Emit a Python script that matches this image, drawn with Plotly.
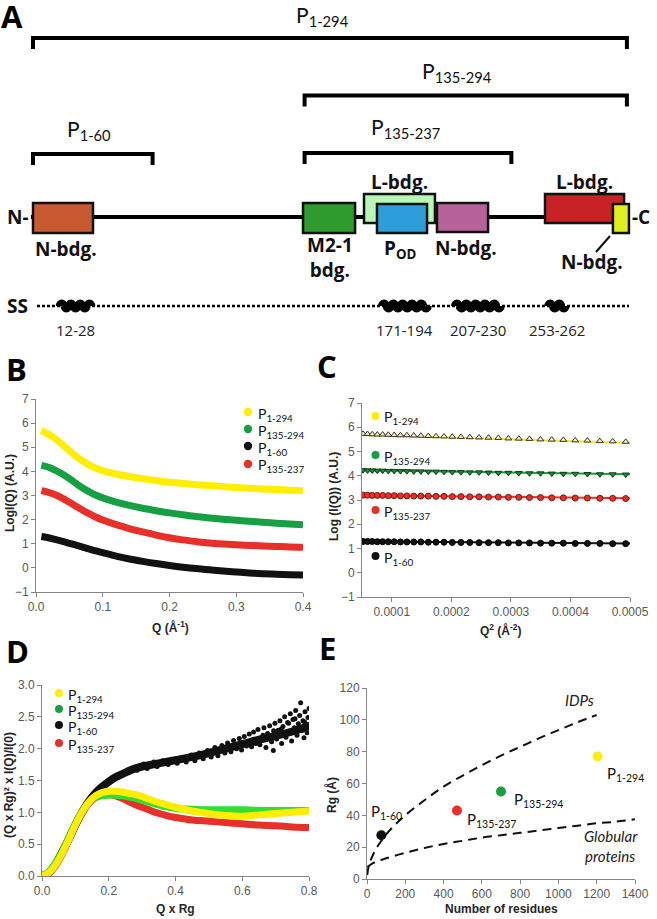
import plotly.graph_objects as go

W, H = 657, 919


def px_x(px):
    return px / W


def px_y(py):
    return 1 - py / H


# ======================= DATA =======================
# ---- Panel A: construct map (residue numbers) ----
construct_labels = ["P<sub>1-294</sub>", "P<sub>135-294</sub>", "P<sub>1-60</sub>", "P<sub>135-237</sub>"]
construct_start = [1, 135, 1, 135]
construct_end = [294, 294, 60, 237]

domain_labels = ["N-bdg.", "M2-1<br>bdg.", "L-bdg.", "P<sub>OD</sub>", "N-bdg.", "L-bdg.", "N-bdg."]
domain_start = [1.0, 134.2, 164.3, 170.7, 200.3, 253.6, 287.1]
domain_end = [30.6, 159.9, 199.3, 195.4, 225.5, 292.6, 295.0]
domain_colors = ["#C75A31", "#2E9B2E", "#B9F7B9", "#2E9EDB", "#B8629A", "#C82126", "#DCF01F"]

helix_start = [12, 171, 207, 253]
helix_end = [28, 194, 230, 262]
helix_labels = ["12-28", "171-194", "207-230", "253-262"]

series_names = ["P<sub>1-294</sub>", "P<sub>135-294</sub>", "P<sub>1-60</sub>", "P<sub>135-237</sub>"]

# ---- Panel B: log I(Q) vs Q ----
q_b = [0.008, 0.02, 0.03, 0.04, 0.05, 0.06, 0.07, 0.08, 0.09, 0.10, 0.12, 0.14, 0.16, 0.18,
       0.20, 0.22, 0.24, 0.26, 0.28, 0.30, 0.32, 0.34, 0.36, 0.38, 0.40]
b_p1_294 = [5.70, 5.52, 5.33, 5.10, 4.86, 4.63, 4.43, 4.26, 4.13, 4.03, 3.89, 3.79, 3.70, 3.62,
            3.55, 3.50, 3.45, 3.41, 3.37, 3.33, 3.30, 3.27, 3.25, 3.22, 3.20]
b_p135_294 = [4.25, 4.16, 4.03, 3.88, 3.70, 3.50, 3.31, 3.15, 3.01, 2.90, 2.73, 2.59, 2.47, 2.37,
              2.28, 2.20, 2.13, 2.07, 2.02, 1.97, 1.93, 1.89, 1.85, 1.82, 1.79]
b_p1_60 = [1.30, 1.24, 1.17, 1.10, 1.02, 0.94, 0.86, 0.78, 0.70, 0.63, 0.49, 0.37, 0.27, 0.18,
           0.10, 0.03, -0.03, -0.08, -0.13, -0.17, -0.21, -0.24, -0.26, -0.28, -0.30]
b_p135_237 = [3.20, 3.12, 3.02, 2.88, 2.72, 2.55, 2.39, 2.24, 2.10, 1.98, 1.79, 1.63, 1.49, 1.36,
              1.25, 1.16, 1.09, 1.03, 0.99, 0.96, 0.93, 0.91, 0.89, 0.87, 0.86]

# ---- Panel C: Guinier plot ----
q2_c = [0.0000518, 0.0000593, 0.0000672, 0.0000757, 0.0000846, 0.0000941, 0.0001040, 0.0001145,
        0.0001254, 0.0001369, 0.0001488, 0.0001613, 0.0001742, 0.0001877, 0.0002016, 0.0002161,
        0.0002310, 0.0002465, 0.0002624, 0.0002789, 0.0002958, 0.0003133, 0.0003312, 0.0003497,
        0.0003686, 0.0003881, 0.0004080, 0.0004285, 0.0004494, 0.0004709, 0.0004928]
c_p1_294 = [5.73, 5.72, 5.71, 5.70, 5.70, 5.69, 5.68, 5.67, 5.67, 5.66, 5.65, 5.64, 5.63, 5.62, 5.61, 5.60,
            5.59, 5.58, 5.57, 5.56, 5.54, 5.53, 5.52, 5.50, 5.49, 5.48, 5.46, 5.45, 5.43, 5.42, 5.40]
c_p135_294 = [4.23, 4.22, 4.22, 4.21, 4.21, 4.20, 4.20, 4.19, 4.19, 4.18, 4.18, 4.17, 4.17, 4.16, 4.15, 4.15,
              4.14, 4.14, 4.13, 4.12, 4.12, 4.11, 4.10, 4.10, 4.09, 4.08, 4.08, 4.07, 4.06, 4.06, 4.05]
c_p135_237 = [3.20, 3.20, 3.19, 3.19, 3.19, 3.18, 3.18, 3.17, 3.17, 3.16, 3.16, 3.16, 3.15, 3.15, 3.14, 3.14,
              3.13, 3.13, 3.12, 3.12, 3.11, 3.11, 3.10, 3.10, 3.09, 3.09, 3.08, 3.08, 3.07, 3.07, 3.06]
c_p1_60 = [1.29, 1.29, 1.29, 1.28, 1.28, 1.28, 1.28, 1.27, 1.27, 1.27, 1.27, 1.26, 1.26, 1.26, 1.25, 1.25,
           1.25, 1.24, 1.24, 1.24, 1.23, 1.23, 1.23, 1.22, 1.22, 1.22, 1.21, 1.21, 1.21, 1.20, 1.20]
fit_x = [0.00005, 0.0005]
fit_p1_294 = [5.68, 5.36]
fit_p135_294 = [4.23, 4.06]
fit_p135_237 = [3.20, 3.07]
fit_p1_60 = [1.29, 1.21]

# ---- Panel D: normalized Kratky plot ----
qrg_d = [0.0, 0.02, 0.04, 0.06, 0.08, 0.10, 0.12, 0.14, 0.16, 0.18, 0.20, 0.22, 0.24, 0.26, 0.28,
         0.30, 0.32, 0.34, 0.36, 0.38, 0.40, 0.45, 0.50, 0.55, 0.60, 0.65, 0.70, 0.75, 0.80]
d_p1_294 = [0.0, 0.05, 0.17, 0.35, 0.57, 0.80, 1.00, 1.16, 1.26, 1.31, 1.33, 1.33, 1.32, 1.30, 1.28,
            1.25, 1.21, 1.17, 1.14, 1.11, 1.08, 1.02, 0.98, 0.95, 0.94, 0.96, 0.98, 1.00, 1.02]
d_p135_294 = [0.0, 0.06, 0.20, 0.38, 0.60, 0.82, 1.01, 1.15, 1.23, 1.26, 1.27, 1.27, 1.26, 1.24, 1.22,
              1.19, 1.16, 1.13, 1.10, 1.08, 1.06, 1.05, 1.04, 1.04, 1.04, 1.03, 1.03, 1.03, 1.03]
d_p135_237 = [0.0, 0.04, 0.16, 0.34, 0.56, 0.79, 0.99, 1.14, 1.23, 1.27, 1.28, 1.26, 1.22, 1.17, 1.12,
              1.08, 1.04, 1.00, 0.97, 0.94, 0.92, 0.88, 0.86, 0.84, 0.82, 0.80, 0.79, 0.77, 0.76]
d_p1_60 = [0.0, 0.05, 0.18, 0.37, 0.58, 0.80, 1.00, 1.17, 1.30, 1.40, 1.48, 1.55, 1.60, 1.65, 1.69,
           1.72, 1.74, 1.76, 1.78, 1.80, 1.82, 1.87, 1.93, 2.00, 2.07, 2.14, 2.20, 2.27, 2.35]
d_p1_60_pts_x = [0.285, 0.305, 0.315, 0.335, 0.345, 0.362, 0.378, 0.392, 0.405, 0.418, 0.432, 0.447,
                 0.458, 0.471, 0.483, 0.496, 0.507, 0.518, 0.527, 0.539, 0.548, 0.556, 0.566, 0.574,
                 0.583, 0.591, 0.598, 0.606, 0.613, 0.621, 0.628, 0.634, 0.641, 0.647, 0.653, 0.659,
                 0.665, 0.671, 0.676, 0.682, 0.688, 0.693, 0.698, 0.703, 0.708, 0.713, 0.718, 0.722,
                 0.727, 0.731, 0.736, 0.740, 0.744, 0.748, 0.752, 0.756, 0.760, 0.764, 0.768, 0.772,
                 0.775, 0.778, 0.782, 0.785, 0.788, 0.791, 0.794, 0.797, 0.799, 0.800, 0.602, 0.662,
                 0.694, 0.717, 0.739, 0.758, 0.771, 0.787]
d_p1_60_pts_y = [1.66, 1.76, 1.69, 1.79, 1.72, 1.81, 1.75, 1.83, 1.77, 1.86, 1.79, 1.90, 1.81, 1.93,
                 1.84, 1.97, 1.87, 2.02, 1.89, 2.05, 1.93, 2.09, 1.95, 2.13, 2.00, 2.16, 1.98, 2.19,
                 2.04, 2.23, 2.03, 2.26, 2.08, 2.30, 2.06, 2.17, 2.33, 2.02, 2.24, 2.36, 2.11, 1.97,
                 2.40, 2.15, 2.29, 2.44, 2.08, 2.35, 2.50, 2.18, 2.41, 2.26, 2.55, 2.12, 2.46, 2.33,
                 2.60, 2.21, 2.39, 2.52, 2.72, 2.28, 2.44, 2.17, 2.58, 2.35, 2.25, 2.49, 2.38, 2.63,
                 2.10, 2.21, 2.28, 2.31, 2.40, 2.47, 2.34, 2.42]

# ---- Panel E: Rg vs number of residues ----
e_residues = [75, 470, 700, 1205]
e_rg = [27.5, 43, 55, 77]
e_labels = ["P<sub>1-60</sub>", "P<sub>135-237</sub>", "P<sub>135-294</sub>", "P<sub>1-294</sub>"]
idp_n = [1, 10, 25, 50, 75, 100, 150, 200, 300, 400, 500, 600, 700, 800, 900, 1000, 1100, 1200]
idp_rg = [2.5, 8.5, 13.5, 19.5, 24, 28, 34.5, 40, 49.5, 58, 65, 71.5, 77.5, 83, 88.5, 93.5, 98.5, 103]
glob_n = [2, 25, 50, 100, 200, 300, 400, 500, 600, 700, 800, 900, 1000, 1100, 1200, 1300, 1400]
glob_rg = [7.5, 9.5, 11, 13, 16.5, 19.5, 22, 24, 26, 27.5, 29, 30.5, 32, 33.5, 35, 36, 37.5]

# ======================= STYLE / LAYOUT =======================
C_YEL = "#FFEE00"
C_GRN = "#16A043"
C_GRN_D = "#33DD33"
C_BLK = "#111111"
C_RED = "#E8302A"

AXF = dict(family="Liberation Sans, Arial, sans-serif", size=12, color="#595959")
TFAM = "Liberation Sans, Arial, sans-serif"
LATO = "Lato, sans-serif"
OPEN = "Open Sans, sans-serif"

fig = go.Figure()

# ---- B traces ----
for ys, col in [(b_p1_294, C_YEL), (b_p135_294, C_GRN), (b_p135_237, C_RED), (b_p1_60, C_BLK)]:
    fig.add_trace(go.Scatter(x=q_b, y=ys, mode="lines", line=dict(color=col, width=7, shape="spline"),
                             xaxis="x", yaxis="y", hoverinfo="skip"))

# ---- C traces ----
c_styles = [
    (c_p1_294, fit_p1_294, "#F7EA1A", dict(symbol="triangle-up", size=6, color="#F4EFC0", line=dict(color="#333", width=1))),
    (c_p135_294, fit_p135_294, "#1E9B3A", dict(symbol="triangle-down", size=6, color="#1E8C3A", line=dict(color="#0B3A16", width=1))),
    (c_p135_237, fit_p135_237, C_RED, dict(symbol="circle", size=6, color=C_RED, line=dict(color="#7A1815", width=1))),
    (c_p1_60, fit_p1_60, C_BLK, dict(symbol="circle", size=6, color=C_BLK, line=dict(color="#000", width=1))),
]
for ys, fit, lcol, mk in c_styles:
    fig.add_trace(go.Scatter(x=fit_x, y=fit, mode="lines", line=dict(color=lcol, width=2),
                             xaxis="x2", yaxis="y2", hoverinfo="skip"))
    fig.add_trace(go.Scatter(x=q2_c, y=ys, mode="markers", marker=mk, xaxis="x2", yaxis="y2", hoverinfo="skip"))

# ---- D traces ----
fig.add_trace(go.Scatter(x=qrg_d, y=d_p1_60, mode="lines", line=dict(color=C_BLK, width=8, shape="spline"),
                         xaxis="x3", yaxis="y3", hoverinfo="skip"))
fig.add_trace(go.Scatter(x=d_p1_60_pts_x, y=d_p1_60_pts_y, mode="markers",
                         marker=dict(color=C_BLK, size=5), xaxis="x3", yaxis="y3", hoverinfo="skip"))
for ys, col in [(d_p135_237, C_RED), (d_p135_294, C_GRN_D), (d_p1_294, C_YEL)]:
    fig.add_trace(go.Scatter(x=qrg_d, y=ys, mode="lines", line=dict(color=col, width=7, shape="spline"),
                             xaxis="x3", yaxis="y3", hoverinfo="skip"))

# ---- E traces ----
fig.add_trace(go.Scatter(x=idp_n, y=idp_rg, mode="lines", line=dict(color=C_BLK, width=2, dash="9px,6px", shape="spline"),
                         xaxis="x4", yaxis="y4", hoverinfo="skip"))
fig.add_trace(go.Scatter(x=glob_n, y=glob_rg, mode="lines", line=dict(color=C_BLK, width=2, dash="9px,6px", shape="spline"),
                         xaxis="x4", yaxis="y4", hoverinfo="skip"))
fig.add_trace(go.Scatter(x=e_residues, y=e_rg, mode="markers",
                         marker=dict(color=[C_BLK, C_RED, C_GRN, C_YEL], size=10),
                         xaxis="x4", yaxis="y4", hoverinfo="skip"))


def axis(dom, rng, anchor, **kw):
    d = dict(domain=dom, range=rng, anchor=anchor, showline=True, linecolor="#868686", linewidth=1,
             ticks="outside", ticklen=4, tickcolor="#868686", tickwidth=1, showgrid=False,
             zeroline=False, tickfont=AXF, fixedrange=True, automargin=False)
    d.update(kw)
    return d


# residue axis for panel A (x: residue number, y: pixel row)
RES_PX0, RES_SCALE = 33.0, 2.027


def res_at(px):
    return (px - RES_PX0) / RES_SCALE + 1


layout_axes = dict(
    xaxis=axis([px_x(36), px_x(303)], [0, 0.4], "y", tickvals=[0, 0.1, 0.2, 0.3, 0.4], tickformat=".1f"),
    yaxis=axis([px_y(592), px_y(399)], [-1, 7], "x", dtick=1),
    xaxis2=axis([px_x(362), px_x(630)], [0.00005, 0.0005], "y2",
                tickvals=[0.0001, 0.0002, 0.0003, 0.0004, 0.0005],
                ticktext=["0.0001", "0.0002", "0.0003", "0.0004", "0.0005"]),
    yaxis2=axis([px_y(597), px_y(403)], [-1, 7], "x2", dtick=1),
    xaxis3=axis([px_x(42), px_x(309)], [0, 0.8], "y3", dtick=0.2, tickformat=".1f"),
    yaxis3=axis([px_y(876), px_y(685)], [0, 3], "x3", dtick=0.5, tickformat=".1f"),
    xaxis4=axis([px_x(367), px_x(635)], [0, 1400], "y4", dtick=200),
    yaxis4=axis([px_y(879), px_y(688)], [0, 120], "x4", dtick=20),
    xaxis5=dict(domain=[0, 1], range=[res_at(0), res_at(W)], anchor="y5", visible=False, fixedrange=True),
    yaxis5=dict(domain=[0, 1], range=[H, 0], anchor="x5", visible=False, fixedrange=True),
)

shapes = []
annotations = []


def ann(x, y, text, size, family=OPEN, color="#111", bold=False, xanchor="center", yanchor="middle",
        angle=0, italic=False):
    t = f"<b>{text}</b>" if bold else text
    if italic:
        t = f"<i>{t}</i>"
    annotations.append(dict(x=px_x(x), y=px_y(y), xref="paper", yref="paper", text=t, showarrow=False,
                            font=dict(family=family, size=size, color=color), xanchor=xanchor,
                            yanchor=yanchor, textangle=angle))


# ---- Panel A drawing ----
bracket_y = [38, 95.5, 154, 153]
bracket_label_pos = [(322, 16), (457, 72), (89, 130), (405, 128)]
for s, e, yb in zip(construct_start, construct_end, bracket_y):
    shapes.append(dict(type="path", xref="x5", yref="y5",
                       path=f"M {s},{yb + 11} L {s},{yb} L {e},{yb} L {e},{yb + 11}",
                       line=dict(color="black", width=4)))
for lab, (lx, ly) in zip(construct_labels, bracket_label_pos):
    ann(lx, ly, lab, 21, family=LATO)

# backbone
shapes.append(dict(type="line", xref="x5", yref="y5", x0=0, x1=295, y0=217, y1=217,
                   line=dict(color="black", width=4)))
domain_box_y = [(203, 233), (203, 233), (194, 223), (204, 233), (203, 232), (194, 223), (204, 233)]
for s, e, col, (y0, y1) in zip(domain_start, domain_end, domain_colors, domain_box_y):
    shapes.append(dict(type="rect", xref="x5", yref="y5", x0=s, x1=e, y0=y0, y1=y1,
                       fillcolor=col, line=dict(color="#111", width=2.5)))

domain_label_pos = [(66, 249), (330, 257), (399, 182), (400, 249), (466, 248), (584, 182), (592, 262)]
for lab, (lx, ly) in zip(domain_labels, domain_label_pos):
    ann(lx, ly, lab, 19, bold=True)
# leader line for C-terminal N-bdg.
shapes.append(dict(type="line", xref="paper", yref="paper", x0=px_x(596), y0=px_y(252), x1=px_x(610),
                   y1=px_y(236), line=dict(color="#111", width=2)))
ann(31, 217, "N-", 19, bold=True, xanchor="right")
ann(630, 217, "-C", 19, bold=True, xanchor="left")

# secondary structure
SS_Y = 306
SS_SHIFT = 2
ann(5, SS_Y, "SS", 19, bold=True, xanchor="left")
shapes.append(dict(type="line", xref="x5", yref="y5", x0=res_at(37), x1=res_at(629), y0=SS_Y, y1=SS_Y,
                   line=dict(color="black", width=2.5, dash="3px,2px")))


def helix_path(r0, r1, yc, amp=3.0):
    nh = max(4, round((r1 - r0) / 2.2))
    h = (r1 - r0) / nh
    p = f"M {r0},{yc}"
    for k in range(nh):
        xa = r0 + k * h
        xb = xa + h
        s = -1 if k % 2 == 0 else 1
        p += f" C {xa},{yc + s * amp * 1.33} {xb},{yc + s * amp * 1.33} {xb},{yc}"
    return p


for s, e, lab in zip(helix_start, helix_end, helix_labels):
    s2, e2 = s + SS_SHIFT, e + SS_SHIFT
    shapes.append(dict(type="path", xref="x5", yref="y5", path=helix_path(s2, e2, SS_Y),
                       line=dict(color="black", width=7)))
    mid = (s2 + e2) / 2
    annotations.append(dict(x=mid, y=330, xref="x5", yref="y5", text=lab, showarrow=False,
                            font=dict(family=OPEN, size=15, color="#222"), xanchor="center", yanchor="middle"))

# ---- panel letters ----
for lab, (lx, ly) in zip(["A", "B", "C", "D", "E"], [(12, 16), (16, 369), (327, 366), (17, 651), (327, 648)]):
    ann(lx, ly, lab, 31, bold=True, color="#000")

# ---- axis titles ----
ann(10, 493, "LogI(Q) (A.U.)", 12, family=TFAM, color="#262626", bold=True, angle=-90)
ann(170, 627, "Q (Å<sup>-1</sup>)", 12, family=TFAM, color="#262626", bold=True)
ann(334, 497, "Log (I(Q)) (A.U.)", 12, family=TFAM, color="#262626", bold=True, angle=-90)
ann(500, 630, "Q<sup>2</sup> (Å<sup>-2</sup>)", 12, family=TFAM, color="#262626", bold=True)
ann(9, 785, "(Q x Rg)² x I(Q)/I(0)", 12, family=TFAM, color="#262626", bold=True, angle=-90)
ann(175, 909, "Q x Rg", 12, family=TFAM, color="#262626", bold=True)
ann(331, 795, "Rg (Å)", 12, family=TFAM, color="#262626", bold=True, angle=-90)
ann(501, 909, "Number of residues", 12, family=TFAM, color="#262626", bold=True)


def dot(cx, cy, r, col):
    shapes.append(dict(type="circle", xref="paper", yref="paper", x0=px_x(cx - r), x1=px_x(cx + r),
                       y0=px_y(cy + r), y1=px_y(cy - r), fillcolor=col, line=dict(width=0)))


# ---- legends ----
leg_cols = [C_YEL, C_GRN, C_BLK, C_RED]
for nm, col, yy in zip(series_names, leg_cols, [412, 429, 446, 464]):
    dot(248, yy, 4.2, col)
    ann(256, yy + 2, nm, 14, family=LATO, xanchor="left")

c_leg = [(series_names[0], C_YEL, 416), (series_names[1], C_GRN, 455), (series_names[3], C_RED, 510),
         (series_names[2], C_BLK, 556)]
for nm, col, yy in c_leg:
    dot(375.5, yy, 4, col)
    ann(382, yy + 2, nm, 14, family=LATO, xanchor="left")

for nm, col, yy in zip(series_names, leg_cols, [693, 709, 725, 743]):
    dot(59, yy, 4, col)
    ann(66, yy + 2, nm, 14, family=LATO, xanchor="left")

# ---- panel E labels ----
for lab, (lx, ly) in zip(e_labels, [(369, 812), (465, 820), (512, 800), (605, 774)]):
    ann(lx, ly, lab, 15, family=LATO, xanchor="left")
ann(579, 700, "IDPs", 15, family=LATO, color="#222", italic=True)
ann(611, 836, "Globular", 15, family=LATO, color="#222", italic=True)
ann(610, 856, "proteins", 15, family=LATO, color="#222", italic=True)

fig.update_layout(width=W, height=H, autosize=False,
                  margin=dict(l=0, r=0, t=0, b=0, pad=0, autoexpand=False), paper_bgcolor="white",
                  plot_bgcolor="rgba(0,0,0,0)", showlegend=False, shapes=shapes,
                  annotations=annotations, **layout_axes)

# remove the default 8px page margin so the 657x919 figure fills the window exactly
fig.write_html("out.html", config={"displayModeBar": False, "staticPlot": False},
               post_script="document.documentElement.style.margin='0';document.body.style.margin='0';"
                           "document.body.style.padding='0';")
